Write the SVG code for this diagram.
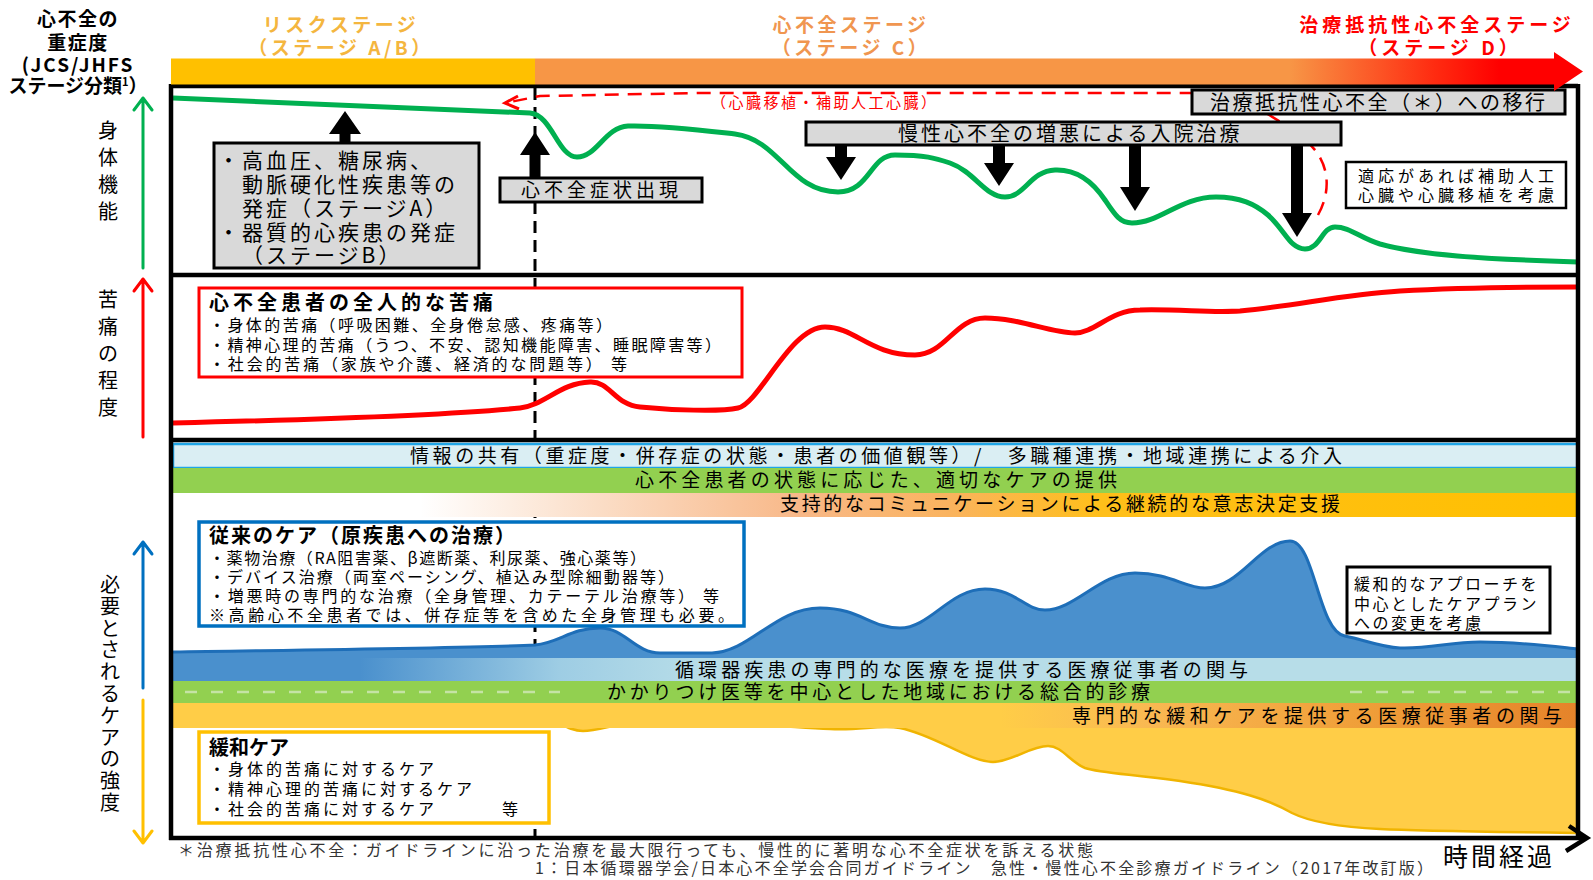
<svg xmlns="http://www.w3.org/2000/svg" width="1593" height="880" viewBox="0 0 1593 880">
<defs>
<style>
text{font-family:"Noto Sans CJK JP","Noto Sans CJK SC",sans-serif;fill:#000}
.b{font-weight:bold}
.gbox{fill:#D9D9D9;stroke:#000;stroke-width:3}
.wbox{fill:#fff;stroke:#000;stroke-width:2.5}
.blk{fill:#000}
.ax{fill:none;stroke-width:3;stroke-linecap:round;stroke-linejoin:round}
.vt{font-size:20px;text-anchor:middle}
.band{font-size:19px}
.frame{stroke:#000;stroke-width:4.5;fill:none}
</style>
<linearGradient id="stageGrad" gradientUnits="userSpaceOnUse" x1="535" y1="0" x2="1583" y2="0">
<stop offset="0" stop-color="#F79646"/>
<stop offset="0.72" stop-color="#F79646"/>
<stop offset="0.86" stop-color="#FF2A10"/>
<stop offset="0.92" stop-color="#FF0000"/>
<stop offset="1" stop-color="#FF0000"/>
</linearGradient>
<linearGradient id="commGrad" gradientUnits="userSpaceOnUse" x1="173" y1="0" x2="1578" y2="0">
<stop offset="0" stop-color="#FFFFFF"/>
<stop offset="0.176" stop-color="#FFFFFF"/>
<stop offset="0.304" stop-color="#FBDDC6"/>
<stop offset="0.446" stop-color="#F8B888"/>
<stop offset="0.553" stop-color="#FAB35E"/>
<stop offset="0.66" stop-color="#FFBF1A"/>
<stop offset="1" stop-color="#FFC000"/>
</linearGradient>
<linearGradient id="cardioGrad" gradientUnits="userSpaceOnUse" x1="173" y1="0" x2="1578" y2="0">
<stop offset="0" stop-color="#4A90CD"/>
<stop offset="0.133" stop-color="#4A90CD"/>
<stop offset="0.275" stop-color="#9ECDE4"/>
<stop offset="0.375" stop-color="#B7DDE8"/>
<stop offset="1" stop-color="#B7DDE8"/>
</linearGradient>
<linearGradient id="palGrad" gradientUnits="userSpaceOnUse" x1="173" y1="0" x2="1578" y2="0">
<stop offset="0" stop-color="#FFCD47"/>
<stop offset="0.589" stop-color="#FFCD47"/>
<stop offset="0.695" stop-color="#F9B852"/>
<stop offset="0.838" stop-color="#F0A03A"/>
<stop offset="1" stop-color="#E5832A"/>
</linearGradient>
</defs>

<rect x="0" y="0" width="1593" height="880" fill="#fff"/>

<!-- dashed vertical (under care-panel fills) -->
<g id="onset-line">
<line x1="535" y1="88" x2="535" y2="836" stroke="#000" stroke-width="3" stroke-dasharray="12 7"/>
</g>

<!-- care panel bands -->
<g id="care-bands">
<rect x="173" y="444" width="1405" height="24" fill="#DAEEF3" stroke="#1FA5E6" stroke-width="2.5"/>
<rect x="173" y="468" width="1405" height="25" fill="#92D050"/>
<rect x="173" y="493" width="1405" height="24" fill="url(#commGrad)"/>
<path d="M173,652 C300,650 480,648 535,645 C560,643 570,628 600,628 C625,628 635,653 660,653 L712,653 C750,652 775,608 820,608 C860,608 870,628 900,628 C930,628 950,589 985,589 C1015,589 1025,610 1045,610 C1075,610 1100,573 1135,573 C1170,573 1185,588 1205,588 C1240,588 1260,541 1290,541 C1315,541 1318,632 1345,636 C1365,640 1380,647 1400,648 C1430,649 1450,642 1480,642 C1520,642 1550,646 1578,649 L1578,660 L173,660 Z" fill="#4A90CD"/>
<path d="M173,652 C300,650 480,648 535,645 C560,643 570,628 600,628 C625,628 635,653 660,653 L712,653 C750,652 775,608 820,608 C860,608 870,628 900,628 C930,628 950,589 985,589 C1015,589 1025,610 1045,610 C1075,610 1100,573 1135,573 C1170,573 1185,588 1205,588 C1240,588 1260,541 1290,541 C1315,541 1318,632 1345,636 C1365,640 1380,647 1400,648 C1430,649 1450,642 1480,642 C1520,642 1550,646 1578,649" fill="none" stroke="#1E6EB8" stroke-width="3"/>
<rect x="173" y="658" width="1405" height="23" fill="url(#cardioGrad)"/>
<rect x="173" y="681" width="1405" height="22" fill="#92D050"/>
<line x1="185" y1="692" x2="560" y2="692" stroke="#C5E3A5" stroke-width="2.5" stroke-dasharray="12 14"/>
<line x1="1350" y1="692" x2="1578" y2="692" stroke="#C5E3A5" stroke-width="2.5" stroke-dasharray="12 14"/>
<path d="M173,703 L1578,703 L1578,833 C1500,832 1420,831 1380,829 C1340,827 1310,822 1292,813 C1270,800 1240,790 1180,781 C1130,774 1100,773 1085,768 C1070,762 1062,746 1048,746 C1030,746 1012,762 993,762 C970,762 935,735 900,728 C880,724 860,731 830,729 C790,727 760,724 720,724 L645,722 C620,722 600,731 583,731 C565,731 555,716 535,716 L173,717 Z" fill="#FFCD47"/>
<path d="M1578,833 C1500,832 1420,831 1380,829 C1340,827 1310,822 1292,813 C1270,800 1240,790 1180,781 C1130,774 1100,773 1085,768 C1070,762 1062,746 1048,746 C1030,746 1012,762 993,762 C970,762 935,735 900,728 C880,724 860,731 830,729 C790,727 760,724 720,724 L645,722 C620,722 600,731 583,731 C565,731 555,716 535,716 L173,717" fill="none" stroke="#F0B400" stroke-width="2.5"/>
<rect x="173" y="703" width="1405" height="25" fill="url(#palGrad)"/>
<text class="band" x="410" y="463" textLength="932" lengthAdjust="spacing">情報の共有（重症度・併存症の状態・患者の価値観等）/　多職種連携・地域連携による介入</text>
<text class="band" x="635" y="487" textLength="482" lengthAdjust="spacing">心不全患者の状態に応じた、適切なケアの提供</text>
<text class="band" x="780" y="511" textLength="560" lengthAdjust="spacing">支持的なコミュニケーションによる継続的な意志決定支援</text>
<text class="band" x="675" y="677" textLength="573" lengthAdjust="spacing">循環器疾患の専門的な医療を提供する医療従事者の関与</text>
<text class="band" x="607" y="699" textLength="543" lengthAdjust="spacing">かかりつけ医等を中心とした地域における総合的診療</text>
<text class="band" x="1072" y="723" textLength="490" lengthAdjust="spacing">専門的な緩和ケアを提供する医療従事者の関与</text>
</g>

<!-- curves -->
<g id="connectors">
<path id="red-dash" d="M1318,215 C1332,190 1330,160 1305,140 C1285,124 1258,106 1230,96 L1190,93 L700,93 L540,96 L510,102" fill="none" stroke="#FF0000" stroke-width="2.5" stroke-dasharray="14 9"/>
<polyline points="518,96 505,103 519,109" fill="none" stroke="#FF0000" stroke-width="3"/>
<path id="green-curve" d="M173,98 L530,113 C552,115 558,157 577,157 C597,157 605,127 628,126 C660,125 700,130 735,134 C780,140 790,192 838,192 C870,192 870,155 895,155 C925,155 935,158 950,163 C975,172 985,197 1005,197 C1025,197 1030,171 1055,170 C1080,169 1095,185 1105,200 C1115,215 1120,223 1132,223 C1160,223 1180,197 1216,197 C1240,197 1255,204 1268,215 C1285,230 1290,249 1305,249 C1320,249 1322,227 1335,227 C1350,227 1360,238 1380,244 C1420,255 1480,259 1578,262" fill="none" stroke="#00B050" stroke-width="5"/>
<path id="red-curve" d="M173,423 C300,420 450,415 520,408 C545,405 560,383 590,382 C610,381 615,405 640,407 C670,410 720,412 738,408 C760,403 790,327 825,327 C855,327 870,355 915,355 C945,355 955,318 985,318 C1020,318 1050,333 1075,333 C1095,333 1110,310 1140,310 C1180,309 1210,313 1240,311 C1300,305 1340,295 1400,291 C1470,287 1530,287 1578,287" fill="none" stroke="#FF0000" stroke-width="5"/>
<polygon class="blk" points="345,111 361,134 350.5,134 350.5,143 339.5,143 339.5,134 329,134"/>
<polygon class="blk" points="535,132 550,155 540.5,155 540.5,178 529.5,178 529.5,155 520,155"/>
<polygon class="blk" points="835,145 847,145 847,157 856,157 841,180 826,157 835,157"/>
<polygon class="blk" points="993,145 1005,145 1005,163 1014,163 999,186 984,163 993,163"/>
<polygon class="blk" points="1129,145 1141,145 1141,187 1150,187 1135,211 1120,187 1129,187"/>
<polygon class="blk" points="1291,145 1303,145 1303,213 1312,213 1297,237 1282,213 1291,213"/>
</g>

<!-- header -->
<g id="severity-title">
<text class="b" font-size="19" text-anchor="middle" letter-spacing="1.5"><tspan x="78" y="26">心不全の</tspan><tspan x="78" y="50">重症度</tspan></text>
<text class="b" font-size="19" text-anchor="middle" letter-spacing="2" x="78" y="72">(JCS/JHFS</text>
<text class="b" font-size="19" text-anchor="middle" x="78" y="93">ステージ分類<tspan font-size="11" dy="-7">1</tspan><tspan dy="7">）</tspan></text>
</g>
<g id="stage-ab">
<text class="b" font-size="19" text-anchor="middle" letter-spacing="3.5" style="fill:#F4B63F"><tspan x="341" y="32">リスクステージ</tspan><tspan x="341" y="55">（ステージ A/B）</tspan></text>
</g>
<g id="stage-c">
<text class="b" font-size="19" text-anchor="middle" letter-spacing="3.5" style="fill:#F09650"><tspan x="851" y="32">心不全ステージ</tspan><tspan x="851" y="55">（ステージ C）</tspan></text>
</g>
<g id="stage-d">
<text class="b" font-size="19" text-anchor="middle" letter-spacing="4" style="fill:#FF0000"><tspan x="1437" y="32">治療抵抗性心不全ステージ</tspan><tspan x="1440" y="55">（ステージ D）</tspan></text>
</g>

<!-- axis labels -->
<g id="axis-physical">
<path class="ax" d="M143,268 L143,98 M134,110 L143,98 L152,110" stroke="#00B050"/>
<text class="vt"><tspan x="108" y="138">身</tspan><tspan x="108" y="165">体</tspan><tspan x="108" y="192">機</tspan><tspan x="108" y="219">能</tspan></text>
</g>
<g id="axis-pain">
<path class="ax" d="M143,437 L143,279 M134,291 L143,279 L152,291" stroke="#FF0000"/>
<text class="vt"><tspan x="108" y="307">苦</tspan><tspan x="108" y="334">痛</tspan><tspan x="108" y="361">の</tspan><tspan x="108" y="388">程</tspan><tspan x="108" y="415">度</tspan></text>
</g>
<g id="axis-care">
<path class="ax" d="M143,688 L143,542 M134,554 L143,542 L152,554" stroke="#0070C0"/>
<path class="ax" d="M143,700 L143,843 M134,831 L143,843 L152,831" stroke="#FFC000"/>
<text class="vt"><tspan x="110" y="592">必</tspan><tspan x="110" y="614">要</tspan><tspan x="110" y="636">と</tspan><tspan x="110" y="657">さ</tspan><tspan x="110" y="679">れ</tspan><tspan x="110" y="701">る</tspan><tspan x="110" y="723">ケ</tspan><tspan x="110" y="745">ア</tspan><tspan x="110" y="766">の</tspan><tspan x="110" y="788">強</tspan><tspan x="110" y="810">度</tspan></text>
</g>

<!-- upper panel nodes -->
<g id="risk-factors">
<rect class="gbox" x="214" y="143" width="265" height="125"/>
<text font-size="21" letter-spacing="3"><tspan x="218" y="168">・高血圧、糖尿病、</tspan><tspan x="242" y="192">動脈硬化性疾患等の</tspan><tspan x="242" y="216">発症（ステージA）</tspan><tspan x="218" y="240">・器質的心疾患の発症</tspan><tspan x="242" y="263">（ステージB）</tspan></text>
</g>
<g id="onset">
<rect class="gbox" x="500" y="178" width="202" height="24"/>
<text font-size="19" letter-spacing="4" x="521" y="197">心不全症状出現</text>
</g>
<g id="hospitalization">
<rect class="gbox" x="806" y="122" width="535" height="23"/>
<text font-size="20" letter-spacing="3" x="898" y="141">慢性心不全の増悪による入院治療</text>
</g>
<g id="transition">
<rect class="gbox" x="1192" y="90" width="373" height="24"/>
<text font-size="20" letter-spacing="2.5" x="1210" y="110">治療抵抗性心不全（＊）への移行</text>
</g>
<g id="transplant-label">
<text font-size="15" letter-spacing="2.5" x="711" y="108" style="fill:#FF0000">（心臓移植・補助人工心臓）</text>
</g>
<g id="vad-note">
<rect class="wbox" x="1346" y="162" width="220" height="46"/>
<text font-size="16" letter-spacing="4"><tspan x="1358" y="182">適応があれば補助人工</tspan><tspan x="1358" y="201">心臓や心臓移植を考慮</tspan></text>
</g>

<!-- pain panel -->
<g id="total-pain">
<rect x="199" y="288" width="543" height="89" fill="#fff" stroke="#FF0000" stroke-width="3"/>
<text class="b" font-size="20" letter-spacing="4" x="209" y="310">心不全患者の全人的な苦痛</text>
<text font-size="16"><tspan x="209" y="331" textLength="403" lengthAdjust="spacing">・身体的苦痛（呼吸困難、全身倦怠感、疼痛等）</tspan></text>
<text font-size="16"><tspan x="209" y="351" textLength="512" lengthAdjust="spacing">・精神心理的苦痛（うつ、不安、認知機能障害、睡眠障害等）</tspan></text>
<text font-size="16"><tspan x="209" y="370" textLength="418" lengthAdjust="spacing">・社会的苦痛（家族や介護、経済的な問題等） 等</tspan></text>
</g>

<!-- care panel nodes -->
<g id="conventional-care">
<rect x="199" y="522" width="545" height="104" fill="#fff" stroke="#0070C0" stroke-width="3.5"/>
<text class="b" font-size="20" letter-spacing="2" x="209" y="543">従来のケア（原疾患への治療）</text>
<text font-size="16" x="209" y="564" textLength="437" lengthAdjust="spacing">・薬物治療（RA阻害薬、β遮断薬、利尿薬、強心薬等）</text>
<text font-size="16" x="209" y="583" textLength="465" lengthAdjust="spacing">・デバイス治療（両室ペーシング、植込み型除細動器等）</text>
<text font-size="16" x="209" y="602" textLength="510" lengthAdjust="spacing">・増悪時の専門的な治療（全身管理、カテーテル治療等） 等</text>
<text font-size="16" x="209" y="621" textLength="525" lengthAdjust="spacing">※高齢心不全患者では、併存症等を含めた全身管理も必要。</text>
</g>
<g id="palliative-note">
<rect x="1347" y="567" width="203" height="66" fill="#fff" stroke="#000" stroke-width="3"/>
<text font-size="16" letter-spacing="2.5"><tspan x="1354" y="590">緩和的なアプローチを</tspan><tspan x="1354" y="610">中心としたケアプラン</tspan><tspan x="1354" y="629">への変更を考慮</tspan></text>
</g>
<g id="palliative-care">
<rect x="199" y="732" width="350" height="91" fill="#fff" stroke="#FFC000" stroke-width="3.5"/>
<text class="b" font-size="20" x="209" y="755">緩和ケア</text>
<text font-size="16" letter-spacing="3"><tspan x="209" y="775">・身体的苦痛に対するケア</tspan><tspan x="209" y="795">・精神心理的苦痛に対するケア</tspan><tspan x="209" y="815">・社会的苦痛に対するケア</tspan><tspan x="502" y="815">等</tspan></text>
</g>

<!-- frame -->
<g id="frame">
<line class="frame" x1="171" y1="86" x2="1578" y2="86"/>
<line class="frame" x1="171" y1="84" x2="171" y2="840"/>
<line class="frame" x1="1578" y1="84" x2="1578" y2="838"/>
<line class="frame" x1="171" y1="275" x2="1578" y2="275"/>
<line class="frame" x1="171" y1="440" x2="1578" y2="440"/>
<line class="frame" x1="169" y1="838" x2="1585" y2="838"/>
<polyline points="1569,826 1587,838 1566,851" fill="none" stroke="#000" stroke-width="4.5"/>
</g>

<!-- stage bar -->
<g id="stage-bar">
<rect x="171" y="58.5" width="364" height="26" fill="#FFC000"/>
<polygon points="535,58.5 1554,58.5 1554,52 1583,71.5 1554,91 1554,84.5 535,84.5" fill="url(#stageGrad)"/>
</g>

<!-- footer -->
<g id="footer">
<text font-size="16" x="178" y="856" textLength="915" lengthAdjust="spacing" style="fill:#333">＊治療抵抗性心不全：ガイドラインに沿った治療を最大限行っても、慢性的に著明な心不全症状を訴える状態</text>
<text font-size="16" x="535" y="874" textLength="898" lengthAdjust="spacing" style="fill:#333">1：日本循環器学会/日本心不全学会合同ガイドライン　急性・慢性心不全診療ガイドライン（2017年改訂版）</text>
<text font-size="25" letter-spacing="3" x="1443" y="866">時間経過</text>
</g>
</svg>
